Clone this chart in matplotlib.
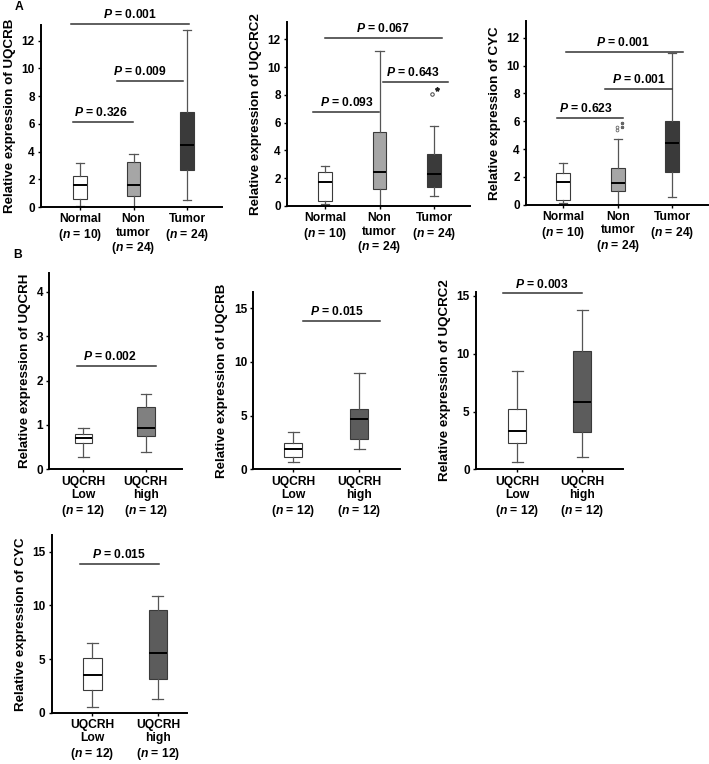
import matplotlib
matplotlib.use('Agg')
import matplotlib.pyplot as plt

plt.rcParams['font.family'] = ['Liberation Sans', 'DejaVu Sans']
plt.rcParams['font.weight'] = 'bold'
plt.rcParams['mathtext.fontset'] = 'custom'
plt.rcParams['mathtext.it'] = 'Liberation Sans:italic:bold'
plt.rcParams['mathtext.rm'] = 'Liberation Sans:bold'

# group labels
a_labels = ['Normal\n($n$ = 10)', 'Non\ntumor\n($n$ = 24)', 'Tumor\n($n$ = 24)']
b_labels = ['UQCRH\nLow\n($n$ = 12)', 'UQCRH\nhigh\n($n$ = 12)']

# five-number summaries per group: [whisker low, Q1, median, Q3, whisker high]
uqcrb_a = [[0.05, 0.58, 1.56, 2.26, 3.14], [0.02, 0.82, 1.56, 3.24, 3.79], [0.53, 2.64, 4.46, 6.86, 12.77]]
uqcrc2_a = [[0.14, 0.36, 1.70, 2.42, 2.90], [0.0, 1.22, 2.42, 5.35, 11.18], [0.72, 1.39, 2.30, 3.72, 5.76]]
cyc_a = [[0.10, 0.34, 1.65, 2.25, 3.02], [0.0, 0.98, 1.53, 2.66, 4.70], [0.57, 2.37, 4.41, 6.04, 10.92]]
uqcrh_b = [[0.27, 0.585, 0.70, 0.80, 0.92], [0.38, 0.75, 0.94, 1.41, 1.70]]
uqcrb_b = [[0.71, 1.18, 1.86, 2.48, 3.51], [1.89, 2.83, 4.69, 5.65, 9.0]]
uqcrc2_b = [[0.61, 2.25, 3.32, 5.22, 8.51], [1.10, 3.26, 5.86, 10.27, 13.79]]
cyc_b = [[0.56, 2.11, 3.51, 5.06, 6.46], [1.24, 3.14, 5.53, 9.57, 10.9]]

# outliers (group index, value)
uqcrc2_a_open = [(3, 8.04)]
uqcrc2_a_star = [(3, 8.40)]
cyc_a_open = [(2, 5.35), (2, 5.55)]
cyc_a_star = [(2, 5.85), (2, 5.60)]

# p-value brackets: (x start, x end, height, text x, p)
uqcrb_a_p = [(0.864, 1.985, 6.12, 1.39, '0.326'), (1.697, 2.931, 9.10, 2.12, '0.009'),
             (0.832, 3.037, 13.2, 1.94, '0.001')]
uqcrc2_a_p = [(0.774, 1.991, 6.77, 1.40, '0.093'), (2.059, 3.262, 8.95, 2.62, '0.643'),
              (1.0, 3.152, 12.12, 2.07, '0.067')]
cyc_a_p = [(0.879, 2.101, 6.25, 1.42, '0.623'), (1.765, 2.989, 8.33, 2.38, '0.001'),
           (1.05, 3.19, 11.0, 2.10, '0.001')]
uqcrh_b_p = [(0.894, 2.16, 2.33, 1.43, '0.002')]
uqcrb_b_p = [(1.142, 2.324, 13.82, 1.66, '0.015')]
uqcrc2_b_p = [(0.785, 1.991, 15.23, 1.375, '0.003')]
cyc_b_p = [(0.812, 2.02, 13.85, 1.40, '0.015')]

W, H = 709, 764
fig = plt.figure(figsize=(W / 100, H / 100), dpi=100)


def make_axes(left, top, right, bottom):
    return fig.add_axes([left / W, 1 - bottom / H, (right - left) / W, (bottom - top) / H])


def draw_panel(rect, summary, labels, colors, width, xlim, ymax, yticks, ylabel, brackets):
    ax = make_axes(*rect)
    stats = []
    for lo, q1, med, q3, hi in summary:
        stats.append(dict(whislo=lo, q1=q1, med=med, q3=q3, whishi=hi, fliers=[]))
    pos = list(range(1, len(summary) + 1))
    bp = ax.bxp(stats, positions=pos, widths=width, capwidths=width * 0.6,
                patch_artist=True, showfliers=False,
                boxprops=dict(edgecolor='#3a3a3a', linewidth=0.8),
                medianprops=dict(color='black', linewidth=1.4),
                whiskerprops=dict(color='#555555', linewidth=0.9),
                capprops=dict(color='#555555', linewidth=0.9))
    for patch, c in zip(bp['boxes'], colors):
        patch.set_facecolor(c)
    for x1, x2, y, tx, p in brackets:
        ax.plot([x1, x2], [y, y], color='#333333', lw=1.1, clip_on=False)
        ax.annotate('$P$ = ' + p, (tx, y), xytext=(0, 2), textcoords='offset points',
                    ha='center', va='bottom', fontsize=8.7, fontweight='bold',
                    annotation_clip=False)
    ax.set_xlim(*xlim)
    ax.set_ylim(0, ymax)
    ax.set_xticks(pos)
    ax.set_xticklabels(labels, fontsize=8.7, fontweight='bold', linespacing=1.15)
    ax.set_yticks(yticks)
    ax.set_yticklabels([str(t) for t in yticks], fontsize=8.5, fontweight='bold')
    ax.set_ylabel(ylabel, fontsize=9.6, fontweight='bold')
    for s in ['top', 'right']:
        ax.spines[s].set_visible(False)
    for s in ['left', 'bottom']:
        ax.spines[s].set_linewidth(1.4)
    ax.tick_params(axis='both', direction='out', length=2.5, width=1, pad=2)
    return ax


a_colors = ['white', '#a6a6a6', '#3a3a3a']
a_ticks = [0, 2, 4, 6, 8, 10, 12]

ax1 = draw_panel((41, 25, 222, 207), uqcrb_a, a_labels, a_colors, 0.25, (0.271, 3.654), 13.13,
                 a_ticks, 'Relative expression of UQCRB', uqcrb_a_p)
ax2 = draw_panel((287, 22, 470, 206), uqcrc2_a, a_labels, a_colors, 0.25, (0.303, 3.66), 13.25,
                 a_ticks, 'Relative expression of UQCRC2', uqcrc2_a_p)
ax3 = draw_panel((526, 21, 708, 204.7), cyc_a, a_labels, a_colors, 0.25, (0.316, 3.655), 13.2,
                 a_ticks, 'Relative expression of CYC', cyc_a_p)

for g, v in uqcrc2_a_open:
    ax2.plot(g - 0.03, v, 'o', mfc='white', mec='#444444', ms=2.5, mew=0.7)
for g, v in uqcrc2_a_star:
    ax2.plot(g + 0.05, v, '*', color='#222222', ms=3)
for g, v in cyc_a_open:
    ax3.plot(g - 0.02, v, 'o', mfc='white', mec='#666666', ms=2, mew=0.6)
for g, v in cyc_a_star:
    ax3.plot(g + 0.08, v, '*', color='#666666', ms=2.2)

draw_panel((49.3, 272.7, 182, 469.3), uqcrh_b, b_labels, ['white', '#808080'], 0.28, (0.455, 2.58),
           4.43, [0, 1, 2, 3, 4], 'Relative expression of UQCRH', uqcrh_b_p)
draw_panel((253.3, 291.7, 400, 469.3), uqcrb_b, b_labels, ['white', '#5c5c5c'], 0.28, (0.394, 2.62),
           16.55, [0, 5, 10, 15], 'Relative expression of UQCRB', uqcrb_b_p)
draw_panel((476, 291.7, 622.7, 469.3), uqcrc2_b, b_labels, ['white', '#5c5c5c'], 0.28, (0.365, 2.62),
           15.37, [0, 5, 10, 15], 'Relative expression of UQCRC2', uqcrc2_b_p)
draw_panel((51.7, 535, 186.7, 712.7), cyc_b, b_labels, ['white', '#5c5c5c'], 0.28, (0.379, 2.44),
           16.56, [0, 5, 10, 15], 'Relative expression of CYC', cyc_b_p)

fig.text(19 / W, 1 - 7 / H, 'A', fontsize=8.7, fontweight='bold', ha='center', va='center')
fig.text(18 / W, 1 - 255 / H, 'B', fontsize=8.7, fontweight='bold', ha='center', va='center')

fig.savefig('out.png', dpi=100)
